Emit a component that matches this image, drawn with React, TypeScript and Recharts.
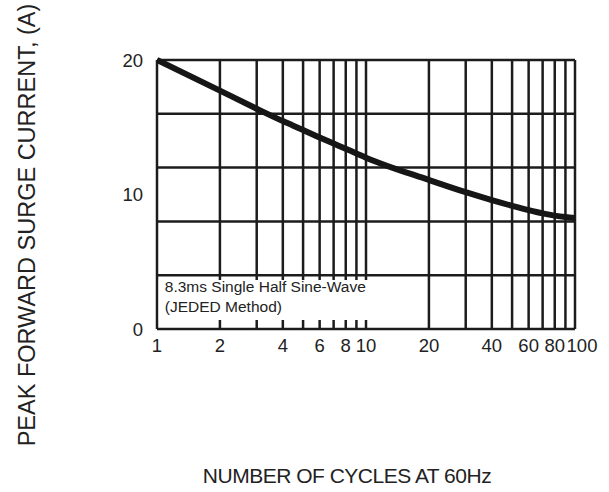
import React from 'react';
import { LineChart, Line, XAxis, YAxis, ReferenceLine, ReferenceArea } from 'recharts';

const cycles = [1, 2, 3, 4, 5, 6, 7, 8, 9, 10, 20, 30, 40, 50, 60, 70, 80, 90, 100];
const current = [20, 17.72, 16.38, 15.46, 14.8, 14.24, 13.79, 13.4, 13.05, 12.74, 11.08, 10.17, 9.58, 9.16, 8.84, 8.6, 8.43, 8.32, 8.25];

const gridCycles = [1, 2, 3, 4, 5, 6, 7, 8, 9, 10, 20, 30, 40, 50, 60, 70, 80, 90, 100];
const gridCurrent = [0, 4, 8, 12, 16, 20];
const xTicks = [1, 2, 4, 6, 8, 10, 20, 40, 60, 80, 100];
const yTicks = [0, 10, 20];

const noteLines = ['8.3ms Single Half Sine-Wave', '(JEDED Method)'];
const noteX = [1.02, 10.5];
const noteY = [0.67, 3.64];

const xLabel = 'NUMBER OF CYCLES AT 60Hz';
const yLabel = 'PEAK FORWARD SURGE CURRENT, (A)';

const data = cycles.map((c, i) => ({ cycles: c, current: current[i] }));

const FONT = '"Liberation Sans", Arial, Helvetica, sans-serif';
const INK = '#1c1c1c';
const TICK_SIZE = 18.5;

const XTick = (props: any) => {
  const { x, y, payload } = props;
  const v = payload.value;
  const shift = v === 100 ? 7 : 0;
  return (
    <text
      x={x + shift}
      y={y}
      dy="0.71em"
      textAnchor="middle"
      fill="#222"
      fontSize={TICK_SIZE}
      fontFamily={FONT}
    >
      {String(v)}
    </text>
  );
};

export default function App() {
  return (
    <div style={{ position: 'absolute', left: 0, top: 0, background: '#fff' }}>
      <LineChart
        width={609}
        height={492}
        data={data}
        margin={{ top: 60, right: 34, bottom: 133, left: 97 }}
        style={{ fontFamily: FONT }}
      >
        <XAxis
          dataKey="cycles"
          type="number"
          scale="log"
          domain={[1, 100]}
          ticks={xTicks}
          allowDataOverflow
          axisLine={false}
          tickLine={false}
          height={30}
          tickMargin={4}
          tick={<XTick />}
          interval={0}
          label={(props: any) => {
            const vb = props.viewBox || { x: 157, y: 329, width: 418 };
            return (
              <text
                x={vb.x + vb.width / 2 - 19}
                y={vb.y + 154}
                textAnchor="middle"
                fill="#222"
                fontSize={21}
                letterSpacing={-0.5}
                fontFamily={FONT}
              >
                {xLabel}
              </text>
            );
          }}
        />
        <YAxis
          type="number"
          domain={[0, 20]}
          ticks={yTicks}
          axisLine={false}
          tickLine={false}
          width={60}
          tickMargin={8}
          tick={{ fill: '#222', fontSize: TICK_SIZE, fontFamily: FONT }}
          interval={0}
          label={(props: any) => {
            const vb = props.viewBox || { x: 97, y: 60 };
            const cx = vb.x - 70;
            const cy = vb.y + 165;
            return (
              <text
                x={cx}
                y={cy}
                transform={`rotate(-90 ${cx} ${cy})`}
                textAnchor="middle"
                dominantBaseline="central"
                fill="#222"
                fontSize={23.5}
                fontFamily={FONT}
              >
                {yLabel}
              </text>
            );
          }}
        />
        {gridCurrent.map((v) => (
          <ReferenceLine key={'h' + v} y={v} stroke={INK} strokeWidth={2.5} zIndex={50} />
        ))}
        {gridCycles.map((v) => (
          <ReferenceLine key={'v' + v} x={v} stroke={INK} strokeWidth={2.5} zIndex={50} />
        ))}
        <ReferenceArea
          x1={noteX[0]}
          x2={noteX[1]}
          y1={noteY[0]}
          y2={noteY[1]}
          fill="#ffffff"
          fillOpacity={1}
          stroke="none"
          zIndex={150}
          label={(props: any) => {
            const vb = props.viewBox || { x: 158, y: 280 };
            return (
              <text x={vb.x + 6} y={vb.y + 12} fill="#222" fontSize={15.5} fontFamily={FONT}>
                <tspan x={vb.x + 6} dy={0}>{noteLines[0]}</tspan>
                <tspan x={vb.x + 6} dy={20}>{noteLines[1]}</tspan>
              </text>
            );
          }}
        />
        <Line
          dataKey="current"
          type="monotone"
          stroke="#161616"
          strokeWidth={6}
          dot={false}
          activeDot={false}
          isAnimationActive={false}
        />
      </LineChart>
    </div>
  );
}
